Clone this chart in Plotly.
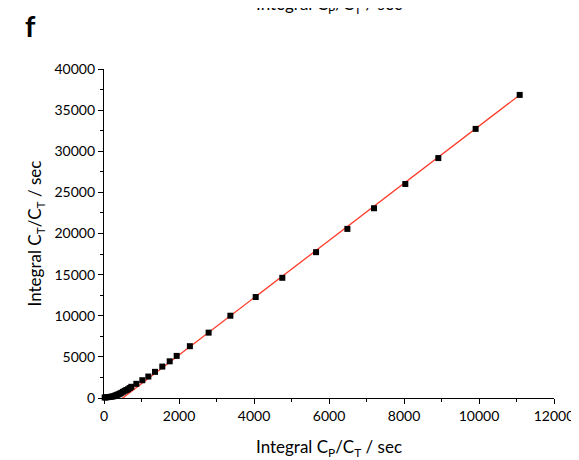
import plotly.graph_objects as go

# Data (Integral Cp/Ct vs Integral Ct/Ct)
x_vals = [18, 50, 88, 130, 178, 220, 258, 295, 329, 360, 391, 425, 462, 505, 551, 595,
          640, 685, 728, 862, 1022, 1182, 1360, 1555, 1752, 1938, 2290, 2790, 3370,
          4045, 4755, 5655, 6490, 7200, 8035, 8915, 9910, 11085]
y_vals = [60, 75, 97, 118, 145, 180, 218, 280, 340, 400, 460, 540, 630, 750, 870, 965,
          1067, 1210, 1360, 1720, 2160, 2610, 3180, 3820, 4460, 5120, 6300, 7945, 10005,
          12275, 14615, 17730, 20560, 23070, 26020, 29170, 32720, 36850]

# Linear fit
fit_slope = 3.48
fit_intercept = -1740
fit_x = [310, 11085]
fit_y = [fit_slope * v + fit_intercept for v in fit_x]

x_title = "Integral C<sub>P</sub>/C<sub>T</sub> / sec"
y_title = "Integral C<sub>T</sub>/C<sub>T</sub> / sec"

FONT = "Lato, Open Sans, sans-serif"

fig = go.Figure()
fig.add_trace(go.Scatter(x=fit_x, y=fit_y, mode="lines",
                         line=dict(color="#ff3b2a", width=1.3),
                         showlegend=False, hoverinfo="skip"))
fig.add_trace(go.Scatter(x=x_vals, y=y_vals, mode="markers",
                         marker=dict(symbol="square", size=6, color="black"),
                         cliponaxis=False, showlegend=False))

axis_common = dict(showline=True, linecolor="black", linewidth=1.2,
                   ticks="outside", ticklen=5, tickwidth=1, tickcolor="black",
                   showgrid=False, zeroline=False, mirror=False, automargin=False,
                   tickformat="d",
                   tickfont=dict(family=FONT, size=14, color="black"))

fig.update_xaxes(range=[0, 12000], tick0=0, dtick=2000,
                 minor=dict(ticks="outside", ticklen=3, dtick=1000, tickcolor="black"),
                 title=dict(text=x_title, font=dict(family=FONT, size=17, color="black"), standoff=18),
                 **axis_common)
fig.update_yaxes(range=[0, 40000], tick0=0, dtick=5000,
                 minor=dict(ticks="outside", ticklen=3, dtick=2500, tickcolor="black"),
                 title=dict(text=y_title, font=dict(family=FONT, size=17, color="black"), standoff=8),
                 **axis_common)

fig.add_annotation(text="<b>f</b>", xref="paper", yref="paper", x=-0.18, y=1.19,
                   xanchor="left", yanchor="top", showarrow=False,
                   font=dict(family=FONT, size=29, color="black"))
fig.add_annotation(text=x_title, xref="paper", yref="paper", x=0.5, y=1.152,
                   xanchor="center", yanchor="bottom", showarrow=False,
                   font=dict(family=FONT, size=17, color="black"))

fig.update_layout(width=579, height=460, plot_bgcolor="white", paper_bgcolor="white",
                  margin=dict(l=96, r=33, t=61, b=70))

fig.write_html("out.html")
